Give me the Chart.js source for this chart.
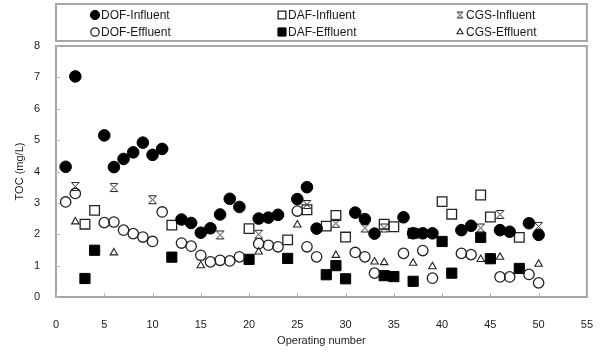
<!DOCTYPE html>
<html>
<head>
<meta charset="utf-8">
<script src="https://cdn.jsdelivr.net/npm/chart.js@4/dist/chart.umd.min.js"></script>
<style>
  html, body { margin: 0; padding: 0; background: #fff; }
  #wrap { width: 614px; height: 354px; }
</style>
</head>
<body>
<div id="wrap"><canvas id="c" width="614" height="354"></canvas></div>
<script>
// TOC of influent / effluent for the three processes, per operating number
const dofInfX = [1, 2, 5, 6, 7, 8, 9, 10, 11, 13, 14, 15, 16, 17, 18, 19, 21, 22, 23, 25, 26, 27, 31, 32, 33, 36, 37, 38, 39, 42, 43, 46, 47, 49, 50];
const dofInfY = [4.15, 7.03, 5.15, 4.14, 4.4, 4.61, 4.92, 4.53, 4.72, 2.47, 2.36, 2.05, 2.19, 2.63, 3.13, 2.87, 2.5, 2.53, 2.62, 3.12, 3.5, 2.18, 2.69, 2.48, 2.02, 2.54, 2.03, 2.03, 2.03, 2.13, 2.27, 2.13, 2.08, 2.35, 1.98];

const dofEffX = [1, 2, 5, 6, 7, 8, 9, 10, 11, 13, 14, 15, 16, 17, 18, 19, 21, 22, 23, 25, 26, 27, 31, 32, 33, 36, 38, 39, 42, 43, 46, 47, 49, 50];
const dofEffY = [3.03, 3.3, 2.37, 2.39, 2.13, 2.02, 1.91, 1.77, 2.71, 1.72, 1.62, 1.33, 1.12, 1.17, 1.15, 1.28, 1.7, 1.65, 1.6, 2.74, 1.6, 1.28, 1.42, 1.28, 0.76, 1.39, 1.48, 0.6, 1.39, 1.35, 0.64, 0.64, 0.72, 0.45];

const dafInfX = [3, 4, 12, 20, 24, 26, 28, 29, 30, 34, 35, 37, 40, 41, 44, 45, 48];
const dafInfY = [2.32, 2.76, 2.29, 2.18, 1.82, 2.78, 2.26, 2.6, 1.91, 2.32, 2.24, 2.03, 3.04, 2.64, 3.25, 2.55, 1.9];

const dafEffX = [3, 4, 12, 20, 24, 28, 29, 30, 34, 35, 37, 40, 41, 44, 45, 48];
const dafEffY = [0.59, 1.49, 1.27, 1.2, 1.23, 0.71, 1.0, 0.58, 0.68, 0.65, 0.5, 1.77, 0.76, 1.9, 1.22, 0.91];

const cgsInfX = [2, 6, 10, 17, 21, 26, 29, 32, 34, 44, 46, 50];
const cgsInfY = [3.52, 3.49, 3.1, 1.98, 2.0, 2.95, 2.35, 2.2, 2.2, 2.2, 2.63, 2.25];

const cgsEffX = [2, 6, 15, 21, 25, 29, 33, 34, 37, 39, 44, 46, 50];
const cgsEffY = [2.4, 1.41, 1.0, 1.44, 2.3, 1.33, 1.12, 1.1, 1.08, 0.97, 1.2, 1.27, 1.05];

const xTickValues = [0, 5, 10, 15, 20, 25, 30, 35, 40, 45, 50, 55];
const yTickValues = [0, 1, 2, 3, 4, 5, 6, 7, 8];

const FONT = '"Liberation Sans", Arial, sans-serif';
const INK = '#1a1a1a';
const FRAME = '#a6a6a6';

function pairs(xs, ys) { return xs.map((x, i) => ({ x: x, y: ys[i] })); }

// X marker with short bars on top and bottom
function makeStarMarker(s) {
  const c = document.createElement('canvas');
  c.width = s; c.height = s;
  const g = c.getContext('2d');
  const lo = 1.5, hi = s - 1.5;
  g.strokeStyle = '#222'; g.lineWidth = 1;
  g.beginPath();
  g.moveTo(lo, lo); g.lineTo(hi, hi);
  g.moveTo(hi, lo); g.lineTo(lo, hi);
  g.moveTo(lo + 0.5, lo); g.lineTo(hi - 0.5, lo);
  g.moveTo(lo + 0.5, hi); g.lineTo(hi - 0.5, hi);
  g.stroke();
  return c;
}
const starMarker = makeStarMarker(11);
const starMarkerSmall = makeStarMarker(9);

const datasets = [
  { label: 'DOF-Influent', data: pairs(dofInfX, dofInfY), pointStyle: 'circle', pointRadius: 5.8,
    backgroundColor: '#000', borderColor: '#000', borderWidth: 1 },
  { label: 'DAF-Influent', data: pairs(dafInfX, dafInfY), pointStyle: 'rect', pointRadius: 6.8,
    backgroundColor: 'rgba(255,255,255,0)', borderColor: '#222', borderWidth: 1.3 },
  { label: 'CGS-Influent', data: pairs(cgsInfX, cgsInfY), pointStyle: starMarker, pointRadius: 6,
    backgroundColor: '#000', borderColor: '#000', borderWidth: 1 },
  { label: 'DOF-Effluent', data: pairs(dofEffX, dofEffY), pointStyle: 'circle', pointRadius: 5.2,
    backgroundColor: 'rgba(255,255,255,0)', borderColor: '#222', borderWidth: 1.3 },
  { label: 'DAF-Effluent', data: pairs(dafEffX, dafEffY), pointStyle: 'rect', pointRadius: 7.2,
    backgroundColor: '#000', borderColor: '#000', borderWidth: 1 },
  { label: 'CGS-Effluent', data: pairs(cgsEffX, cgsEffY), pointStyle: 'triangle', pointRadius: 4.3,
    backgroundColor: 'rgba(255,255,255,0)', borderColor: '#222', borderWidth: 1.1 }
];

// Grey frame around the plot with short inward tick marks
const framePlugin = {
  id: 'frame',
  beforeDatasetsDraw(chart) {
    const { ctx, chartArea: a, scales } = chart;
    ctx.save();
    ctx.strokeStyle = FRAME;
    ctx.lineWidth = 2;
    ctx.strokeRect(a.left, a.top, a.right - a.left, a.bottom - a.top);
    ctx.lineWidth = 1;
    ctx.strokeStyle = '#b8b8b8';
    ctx.beginPath();
    xTickValues.forEach(v => {
      const px = Math.round(scales.x.getPixelForValue(v)) + 0.5;
      ctx.moveTo(px, a.bottom); ctx.lineTo(px, a.bottom - 4);
    });
    yTickValues.forEach(v => {
      const py = Math.round(scales.y.getPixelForValue(v)) + 0.5;
      ctx.moveTo(a.left, py); ctx.lineTo(a.left + 4, py);
    });
    ctx.stroke();
    ctx.restore();
  }
};

// Boxed three-column legend above the plot
const legendBoxPlugin = {
  id: 'legendBox',
  afterDraw(chart) {
    const { ctx, chartArea: a } = chart;
    const top = 4, bottom = 41;
    const colX = [95, 282, 460];
    const rowY = [15, 32];
    ctx.save();
    ctx.strokeStyle = FRAME;
    ctx.lineWidth = 2;
    ctx.strokeRect(a.left, top, a.right - a.left, bottom - top);
    chart.data.datasets.forEach((ds, i) => {
      const x = colX[i % 3], y = rowY[Math.floor(i / 3)];
      const style = ds.pointStyle === starMarker ? starMarkerSmall : ds.pointStyle;
      ctx.fillStyle = ds.backgroundColor;
      ctx.strokeStyle = ds.borderColor;
      ctx.lineWidth = ds.borderWidth;
      Chart.helpers.drawPoint(ctx, { pointStyle: style, radius: ds.pointRadius * 0.8, rotation: 0, borderWidth: ds.borderWidth }, x, y);
      ctx.fillStyle = INK;
      ctx.font = '12px ' + FONT;
      ctx.textBaseline = 'middle';
      ctx.textAlign = 'left';
      ctx.fillText(ds.label, x + 6, y + 0.5);
    });
    ctx.restore();
  }
};

new Chart(document.getElementById('c'), {
  type: 'scatter',
  data: { datasets: datasets },
  options: {
    responsive: false,
    animation: false,
    devicePixelRatio: 1,
    layout: { padding: { top: 46, right: 10, left: 0, bottom: 0 } },
    plugins: { legend: { display: false }, tooltip: { enabled: false } },
    scales: {
      x: {
        type: 'linear', min: 0, max: 55,
        afterFit: s => { s.height = 57; },
        afterBuildTicks: s => { s.ticks = xTickValues.map(v => ({ value: v })); },
        grid: { display: false, drawTicks: false },
        border: { display: false },
        ticks: { color: INK, font: { family: FONT, size: 11 }, padding: 21, maxRotation: 0 },
        title: { display: true, text: 'Operating number', color: INK, font: { family: FONT, size: 11 }, padding: { top: 0, bottom: 6 } }
      },
      y: {
        min: 0, max: 8,
        afterFit: s => { s.width = 56; },
        afterBuildTicks: s => { s.ticks = yTickValues.map(v => ({ value: v })); },
        grid: { display: false, drawTicks: false },
        border: { display: false },
        ticks: { color: INK, font: { family: FONT, size: 11 }, padding: 16 },
        title: { display: true, text: 'TOC (mg/L)', color: INK, font: { family: FONT, size: 11 }, padding: { top: 13, bottom: 0 } }
      }
    }
  },
  plugins: [framePlugin, legendBoxPlugin]
});
</script>
</body>
</html>
